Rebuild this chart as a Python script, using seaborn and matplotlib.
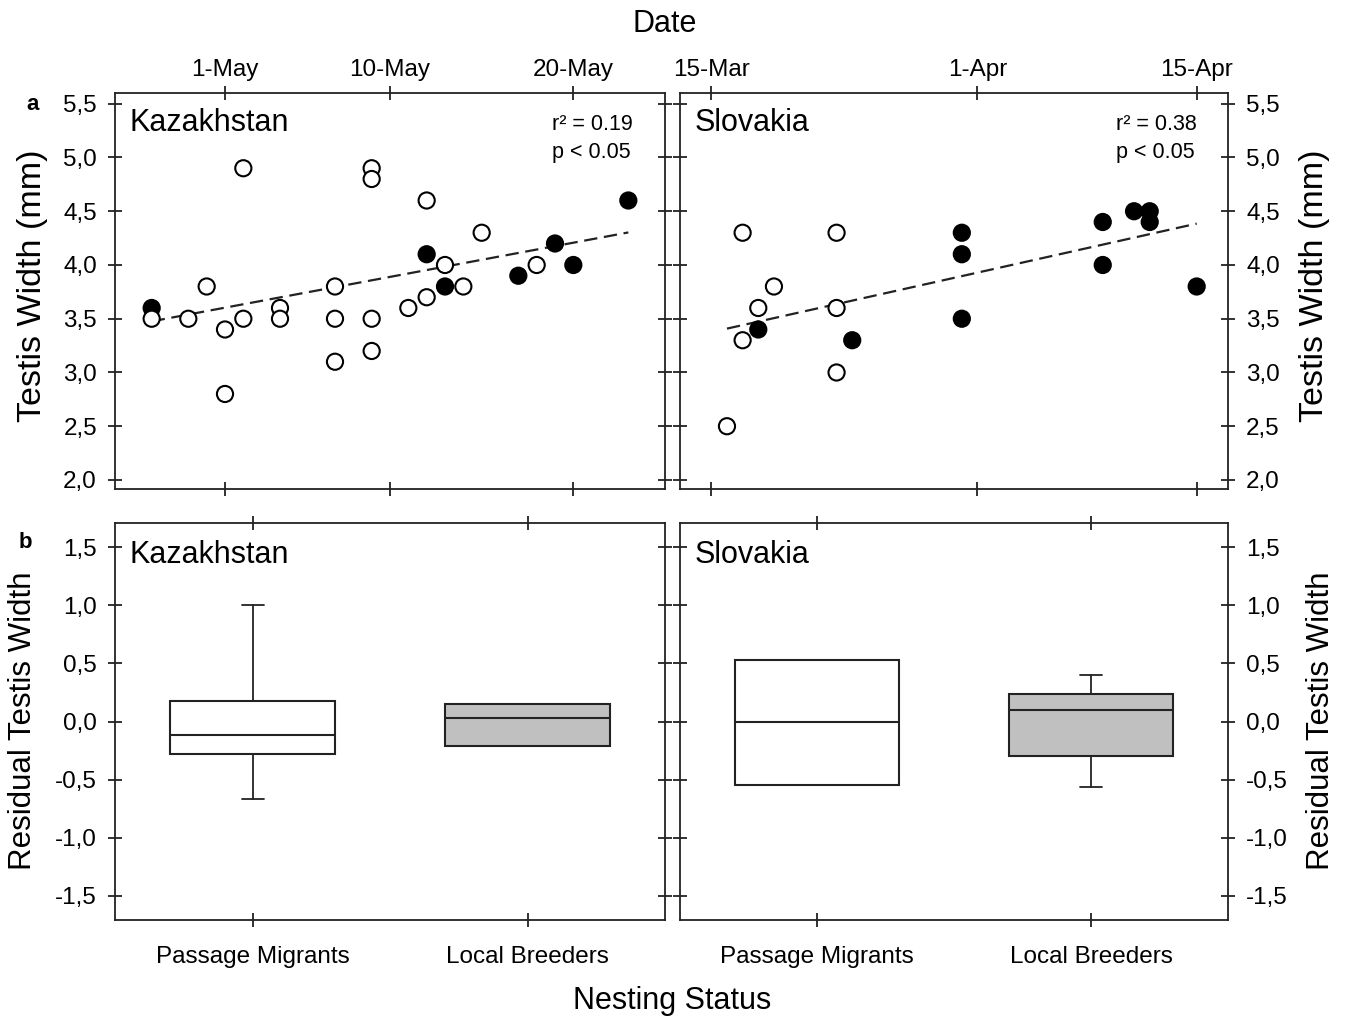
import numpy as np
import pandas as pd
import matplotlib
matplotlib.use("Agg")
import matplotlib.pyplot as plt
import seaborn as sns
from matplotlib.ticker import FuncFormatter

# ─── Data ─────────────────────────────────────────────────────────────────────
YEAR = "2008"

kz_dates = ["27-Apr", "27-Apr", "29-Apr", "30-Apr", "1-May", "1-May", "2-May", "2-May",
            "4-May", "4-May", "7-May", "7-May", "7-May", "9-May", "9-May", "9-May",
            "9-May", "11-May", "12-May", "12-May", "12-May", "13-May", "13-May", "14-May",
            "15-May", "17-May", "18-May", "19-May", "20-May", "23-May"]
kz_width = [3.6, 3.5, 3.5, 3.8, 3.4, 2.8, 4.9, 3.5,
            3.6, 3.5, 3.8, 3.5, 3.1, 4.9, 4.8, 3.5,
            3.2, 3.6, 3.7, 4.6, 4.1, 4.0, 3.8, 3.8,
            4.3, 3.9, 4.0, 4.2, 4.0, 4.6]
kz_status = ["LB", "PM", "PM", "PM", "PM", "PM", "PM", "PM",
             "PM", "PM", "PM", "PM", "PM", "PM", "PM", "PM",
             "PM", "PM", "PM", "PM", "LB", "PM", "LB", "PM",
             "PM", "LB", "PM", "LB", "LB", "LB"]

sk_dates = ["16-Mar", "17-Mar", "17-Mar", "18-Mar", "18-Mar", "19-Mar", "23-Mar", "23-Mar",
            "23-Mar", "24-Mar", "31-Mar", "31-Mar", "31-Mar", "9-Apr", "9-Apr", "11-Apr",
            "12-Apr", "12-Apr", "15-Apr"]
sk_width = [2.5, 4.3, 3.3, 3.4, 3.6, 3.8, 4.3, 3.6,
            3.0, 3.3, 4.3, 4.1, 3.5, 4.4, 4.0, 4.5,
            4.5, 4.4, 3.8]
sk_status = ["PM", "PM", "PM", "LB", "PM", "PM", "PM", "PM",
             "PM", "LB", "LB", "LB", "LB", "LB", "LB", "LB",
             "LB", "LB", "LB"]

kz_stats_text = "r² = 0.19\np < 0.05"
sk_stats_text = "r² = 0.38\np < 0.05"

kz_ref, kz_xlim = "1-May", ("25-Apr", "25-May")
kz_ticks = ["1-May", "10-May", "20-May"]
sk_ref, sk_xlim = "15-Mar", ("13-Mar", "17-Apr")
sk_ticks = ["15-Mar", "1-Apr", "15-Apr"]

# residual testis width box summaries: PM, LB
groups = ["Passage Migrants", "Local Breeders"]
kz_q1 = [-0.28, -0.21]
kz_med = [-0.12, 0.03]
kz_q3 = [0.18, 0.15]
kz_lo = [-0.67, -0.21]
kz_hi = [1.0, 0.15]
sk_q1 = [-0.55, -0.30]
sk_med = [0.0, 0.10]
sk_q3 = [0.53, 0.24]
sk_lo = [-0.55, -0.56]
sk_hi = [0.53, 0.40]

box_colors = ["white", "#c0c0c0"]

# ─── Style ────────────────────────────────────────────────────────────────────
sns.set_theme(style="white")
plt.rcParams["font.family"] = ["Liberation Sans", "DejaVu Sans"]
plt.rcParams["axes.edgecolor"] = "#222222"
plt.rcParams["axes.linewidth"] = 1.3
plt.rcParams["text.color"] = "black"
plt.rcParams["axes.labelcolor"] = "black"

comma_fmt = FuncFormatter(lambda v, p: f"{v:.1f}".replace(".", ","))


def to_day(labels, ref):
    d = pd.to_datetime([f"{s}-{YEAR}" for s in labels], format="%d-%b-%Y")
    r = pd.to_datetime(f"{ref}-{YEAR}", format="%d-%b-%Y")
    return np.array((d - r).days, dtype=float)


def style_ticks(ax):
    ax.tick_params(axis="both", which="both", direction="inout", length=10, width=1.3,
                   color="#222222", labelcolor="black", labelsize=17.5, top=True,
                   bottom=True, left=True, right=True)
    ax.tick_params(axis="y", pad=8)


def set_sides(ax, side):
    if side == "left":
        ax.tick_params(labelleft=True, labelright=False)
    else:
        ax.tick_params(labelleft=False, labelright=True)
    ax.set_ylabel("")


def scatter_panel(ax, dates, width, status, ref, xlim, ticks, title, stats, side):
    df = pd.DataFrame({"day": to_day(dates, ref), "width": width, "status": status})
    sns.regplot(data=df, x="day", y="width", scatter=False, ci=None, ax=ax,
                line_kws=dict(color="#222222", lw=1.6, ls=(0, (6, 3))))
    sns.scatterplot(data=df, x="day", y="width", hue="status",
                    palette={"PM": "white", "LB": "black"}, edgecolor="black",
                    linewidth=1.5, s=135, legend=False, ax=ax, zorder=3)
    ax.set_xlim(*to_day(list(xlim), ref))
    ax.set_ylim(1.916, 5.6)
    ax.set_xticks(to_day(ticks, ref))
    ax.set_xticklabels(ticks)
    ax.set_yticks(np.arange(2.0, 5.51, 0.5))
    ax.yaxis.set_major_formatter(comma_fmt)
    ax.set_xlabel("")
    style_ticks(ax)
    ax.tick_params(labeltop=True, labelbottom=False)
    set_sides(ax, side)
    ax.text(0.027, 0.923, title, transform=ax.transAxes, fontsize=22, va="center")
    ax.text(0.795, 0.948, stats, transform=ax.transAxes, fontsize=15.5, va="top",
            linespacing=1.45)


def box_panel(ax, q1, med, q3, lo, hi, title, side):
    stats = []
    for i, g in enumerate(groups):
        stats.append(dict(label=g, q1=q1[i], med=med[i], q3=q3[i],
                          whislo=lo[i], whishi=hi[i], fliers=[]))
    bp = ax.bxp(stats, positions=[0, 1], widths=0.6, patch_artist=True,
                showfliers=False, capwidths=0.08,
                boxprops=dict(edgecolor="#222222", linewidth=1.5),
                medianprops=dict(color="#222222", linewidth=1.5),
                whiskerprops=dict(color="#222222", linewidth=1.3),
                capprops=dict(color="#222222", linewidth=1.3))
    for patch, c in zip(bp["boxes"], box_colors):
        patch.set_facecolor(c)
    ax.set_xlim(-0.5, 1.5)
    ax.set_ylim(-1.71, 1.71)
    ax.set_yticks(np.arange(-1.5, 1.51, 0.5))
    ax.yaxis.set_major_formatter(comma_fmt)
    ax.set_xticks([0, 1])
    ax.set_xticklabels(groups)
    style_ticks(ax)
    ax.tick_params(labeltop=False, labelbottom=True)
    ax.tick_params(axis="x", pad=14)
    set_sides(ax, side)
    ax.text(0.027, 0.92, title, transform=ax.transAxes, fontsize=22, va="center")


# ─── Figure ───────────────────────────────────────────────────────────────────
fig = plt.figure(figsize=(13.48, 10.16), dpi=100)
W, H = 1348, 1016


def add_ax(x0, y0, x1, y1):
    return fig.add_axes([x0 / W, 1 - y1 / H, (x1 - x0) / W, (y1 - y0) / H])


def fig_label(x, y, s, rot=0, size=22, weight="normal"):
    fig.text(x / W, 1 - y / H, s, ha="center", va="center", fontsize=size,
             rotation=rot, rotation_mode="anchor", fontweight=weight)


ax_a1 = add_ax(115, 93, 665, 489)
ax_a2 = add_ax(680, 93, 1228, 489)
ax_b1 = add_ax(115, 523, 665, 920)
ax_b2 = add_ax(680, 523, 1228, 920)

scatter_panel(ax_a1, kz_dates, kz_width, kz_status, kz_ref, kz_xlim, kz_ticks,
              "Kazakhstan", kz_stats_text, "left")
scatter_panel(ax_a2, sk_dates, sk_width, sk_status, sk_ref, sk_xlim, sk_ticks,
              "Slovakia", sk_stats_text, "right")
box_panel(ax_b1, kz_q1, kz_med, kz_q3, kz_lo, kz_hi, "Kazakhstan", "left")
box_panel(ax_b2, sk_q1, sk_med, sk_q3, sk_lo, sk_hi, "Slovakia", "right")

fig_label(33, 286, "Testis Width (mm)", rot=90, size=24.5)
fig_label(1315, 286, "Testis Width (mm)", rot=90, size=24.5)
fig_label(23, 721, "Residual Testis Width", rot=90, size=22.5)
fig_label(1321, 721, "Residual Testis Width", rot=90, size=22.5)

fig_label(665, 24, "Date")
fig_label(672, 1001, "Nesting Status")
fig_label(33, 104, "a", size=16, weight="bold")
fig_label(25, 542, "b", size=16, weight="bold")

fig.savefig("out.png", dpi=100)
plt.close(fig)
